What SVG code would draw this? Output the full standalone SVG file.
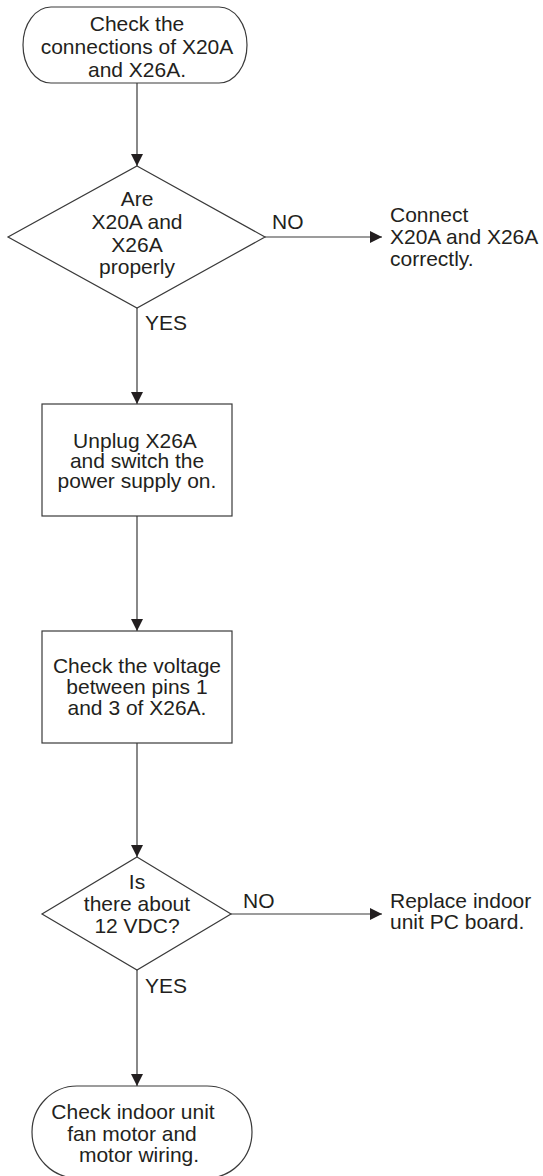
<svg xmlns="http://www.w3.org/2000/svg" width="543" height="1176" viewBox="0 0 543 1176">
<style>
.s{fill:#fff;stroke:#3a3a3a;stroke-width:1.2}
.c{fill:none;stroke:#3a3a3a;stroke-width:1.2}
text{font-family:"Liberation Sans",Arial,sans-serif;font-size:21px;fill:#231f20}
.m{text-anchor:middle}
</style>
<defs>
<marker id="ah" markerWidth="12" markerHeight="12" refX="12" refY="6" orient="auto" markerUnits="userSpaceOnUse">
<path d="M0,0 L12,6 L0,12 Z" fill="#231f20"/>
</marker>
</defs>
<rect width="543" height="1176" fill="#fff"/>
<g id="connectors">
<line class="c" x1="137" y1="83" x2="137" y2="166" marker-end="url(#ah)"/>
<line class="c" x1="265" y1="237" x2="382" y2="237" marker-end="url(#ah)"/>
<line class="c" x1="137" y1="308" x2="137" y2="404" marker-end="url(#ah)"/>
<line class="c" x1="137" y1="516" x2="137" y2="631" marker-end="url(#ah)"/>
<line class="c" x1="137" y1="743" x2="137" y2="857" marker-end="url(#ah)"/>
<line class="c" x1="231" y1="914" x2="382" y2="914" marker-end="url(#ah)"/>
<line class="c" x1="137" y1="970" x2="137" y2="1086" marker-end="url(#ah)"/>
<text x="272" y="229">NO</text>
<text x="145" y="330">YES</text>
<text x="243" y="908">NO</text>
<text x="145" y="993">YES</text>
</g>
<g id="start">
<rect class="s" x="23" y="7" width="224" height="76" rx="28" ry="38"/>
<text class="m" x="137" y="31">Check the</text>
<text class="m" x="137" y="54">connections of X20A</text>
<text class="m" x="137" y="77">and X26A.</text>
</g>
<g id="dec1">
<polygon class="s" points="137,166 265,237 137,308 8,237"/>
<text class="m" x="137" y="206">Are</text>
<text class="m" x="137" y="229">X20A and</text>
<text class="m" x="137" y="252">X26A</text>
<text class="m" x="137" y="274">properly</text>
</g>
<g id="fix1">
<text x="390" y="222">Connect</text>
<text x="390" y="244">X20A and X26A</text>
<text x="390" y="266">correctly.</text>
</g>
<g id="unplug">
<rect class="s" x="42" y="404" width="190" height="112"/>
<text class="m" x="135" y="448">Unplug X26A</text>
<text class="m" x="137" y="468">and switch the</text>
<text class="m" x="137" y="488">power supply on.</text>
</g>
<g id="voltage">
<rect class="s" x="42" y="631" width="190" height="112"/>
<text class="m" x="137" y="673">Check the voltage</text>
<text class="m" x="137" y="694">between pins 1</text>
<text class="m" x="137" y="715">and 3 of X26A.</text>
</g>
<g id="dec2">
<polygon class="s" points="137,857 231,914 137,970 42,914"/>
<text class="m" x="137" y="889">Is</text>
<text class="m" x="137" y="911">there about</text>
<text class="m" x="137" y="933">12 VDC?</text>
</g>
<g id="fix2">
<text x="390" y="908">Replace indoor</text>
<text x="390" y="929">unit PC board.</text>
</g>
<g id="end">
<rect class="s" x="32" y="1086" width="220" height="92" rx="45" ry="46"/>
<text class="m" x="133" y="1119">Check indoor unit</text>
<text class="m" x="132" y="1141">fan motor and</text>
<text class="m" x="139" y="1162">motor wiring.</text>
</g>
</svg>
